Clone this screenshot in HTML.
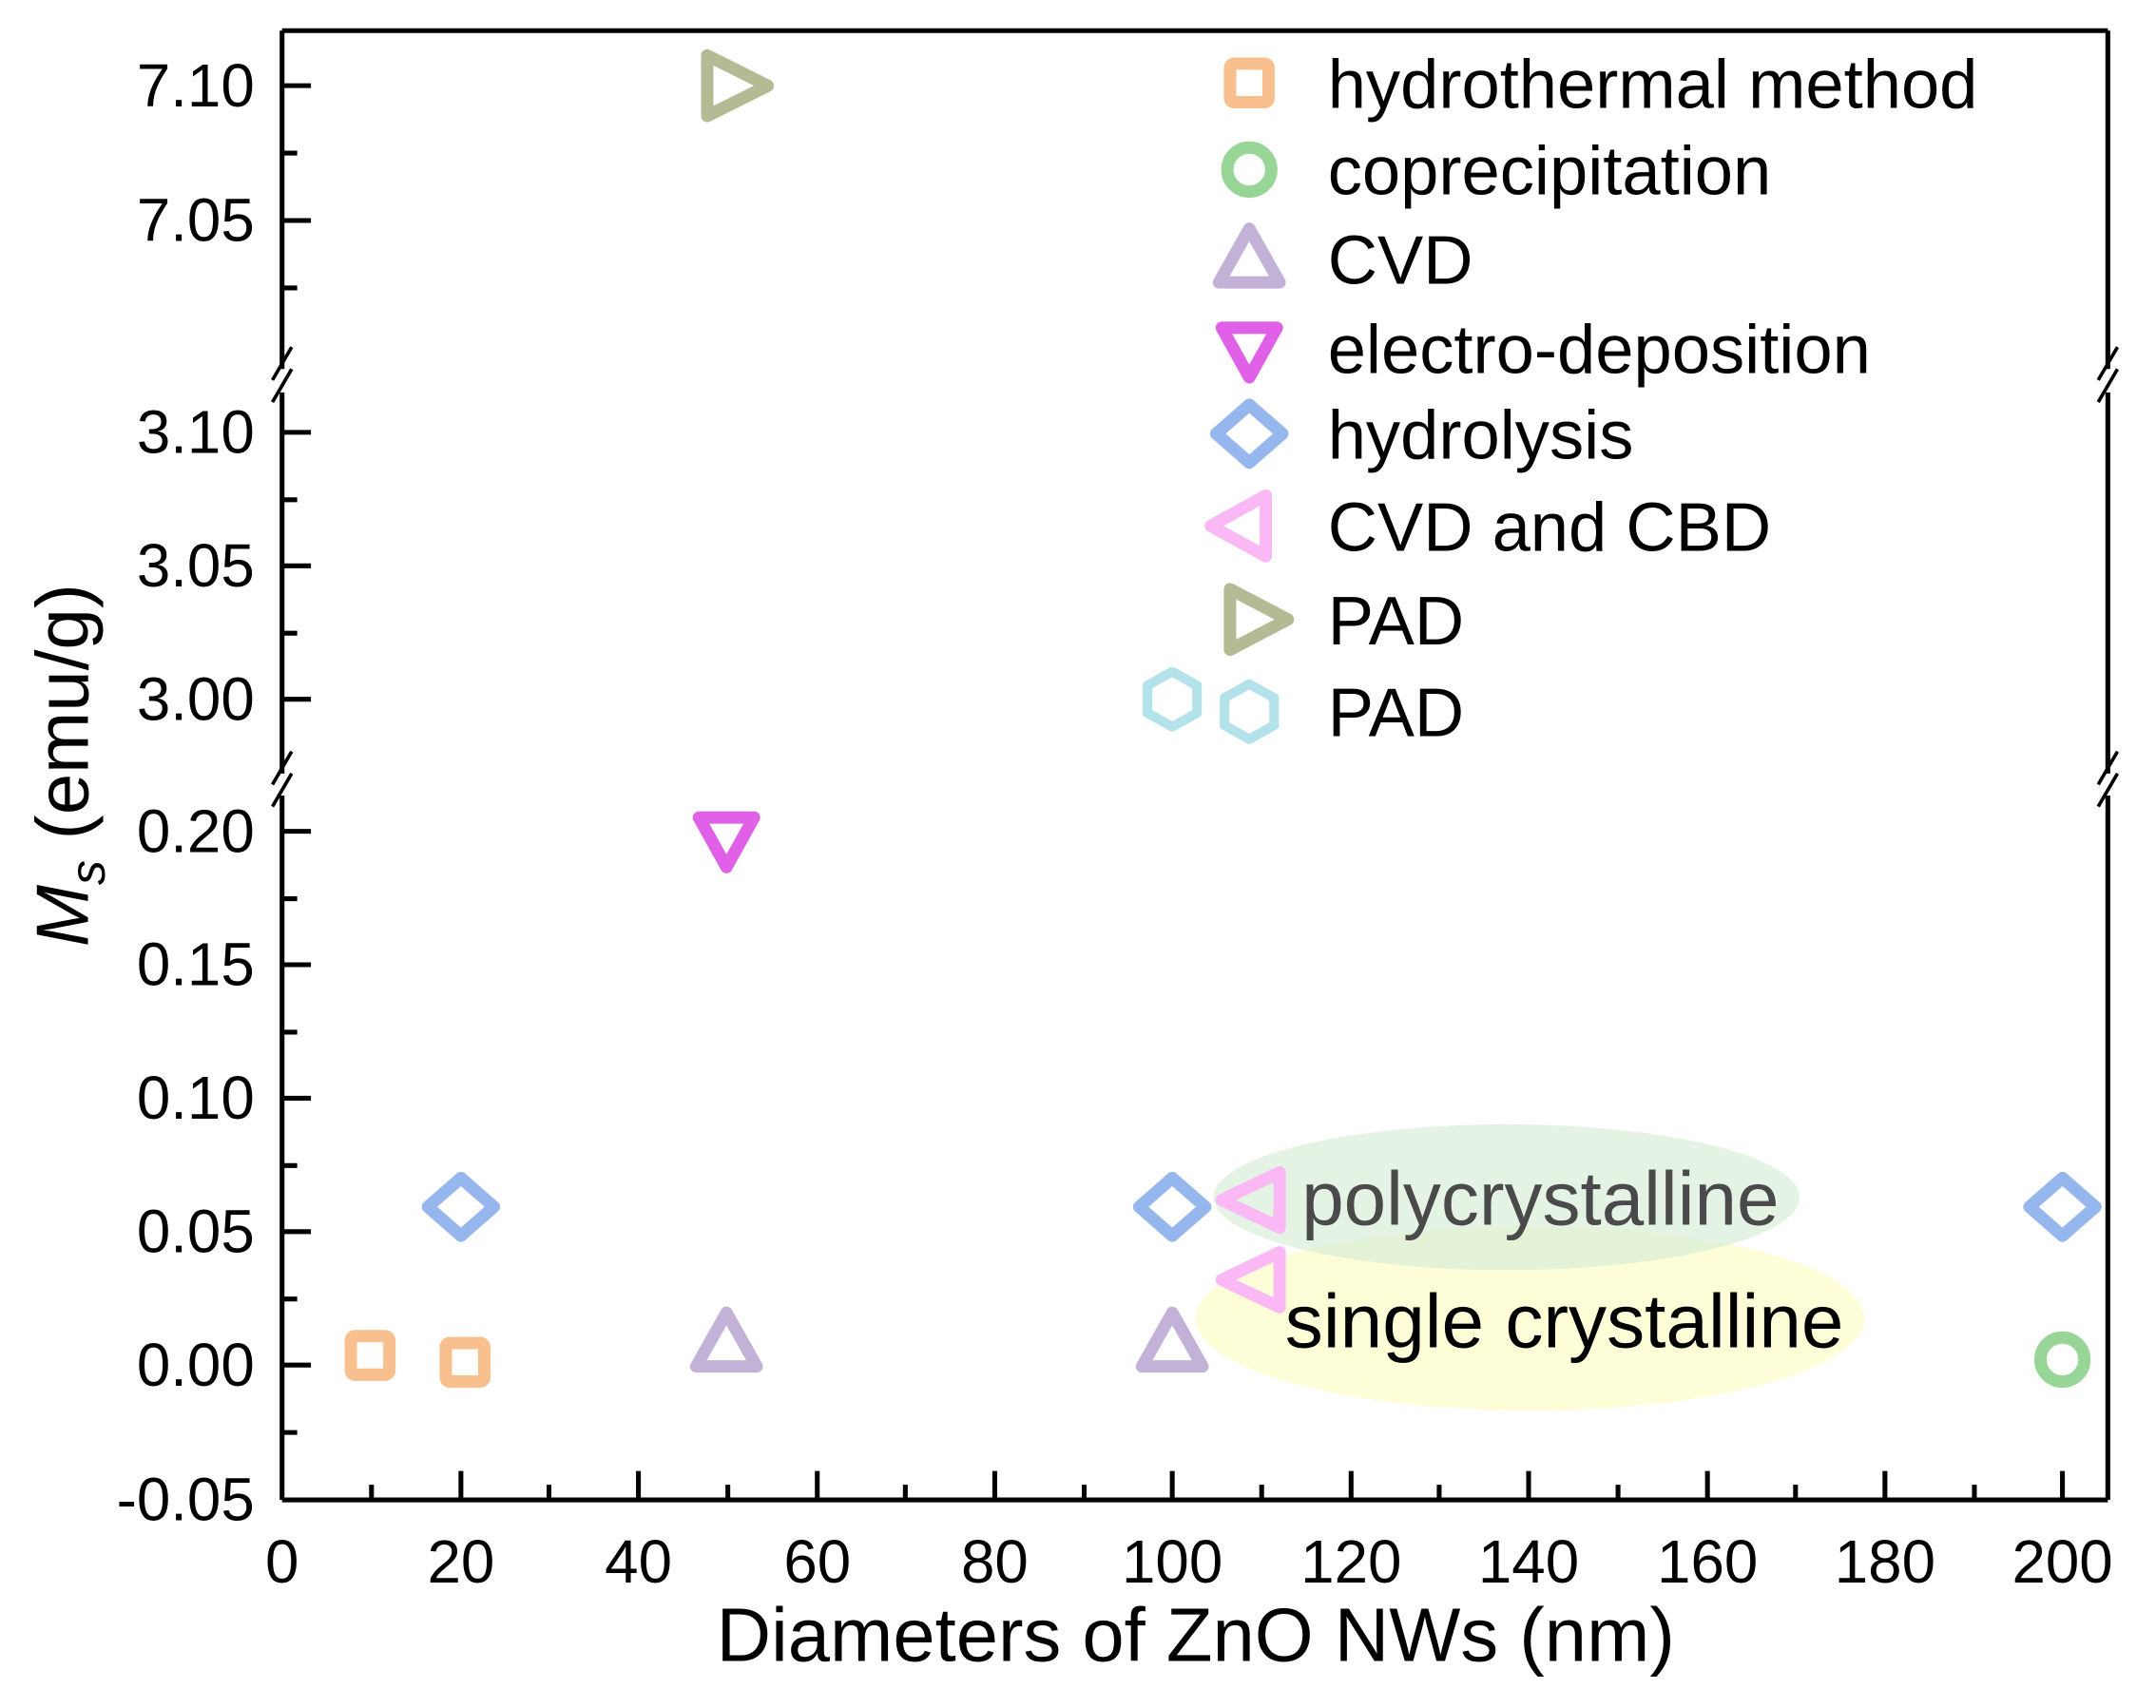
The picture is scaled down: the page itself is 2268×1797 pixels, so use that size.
<!DOCTYPE html>
<html><head><style>html,body{margin:0;padding:0;background:#fff}svg{display:block}</style></head>
<body>
<svg width="2268" height="1797" viewBox="0 0 1567 1241" xmlns="http://www.w3.org/2000/svg" font-family="Liberation Sans, Arial, sans-serif">
<rect width="1567" height="1241" fill="#fff"/>
<ellipse cx="1112" cy="958" rx="243" ry="67" fill="#fdfdd8"/>
<ellipse cx="1095" cy="870" rx="213" ry="53" fill="#d8eed8" opacity="0.7"/>
<text x="946" y="890" font-size="55" fill="#4a4a4a" textLength="347" lengthAdjust="spacingAndGlyphs">polycrystalline</text>
<text x="934" y="979" font-size="55" fill="#000" textLength="406" lengthAdjust="spacingAndGlyphs">single crystalline</text>
<g stroke="#000" stroke-width="3.5" fill="none">
<line x1="205" y1="22" x2="1532" y2="22"/>
<line x1="205" y1="1090" x2="1532" y2="1090"/>
<line x1="205" y1="22" x2="205" y2="268"/>
<line x1="205" y1="285" x2="205" y2="562"/>
<line x1="205" y1="578" x2="205" y2="1090"/>
<line x1="1532" y1="22" x2="1532" y2="268"/>
<line x1="1532" y1="285" x2="1532" y2="562"/>
<line x1="1532" y1="578" x2="1532" y2="1090"/>
<g stroke-width="2.5">
<line x1="198" y1="276" x2="212" y2="252"/><line x1="198" y1="292" x2="212" y2="268"/>
<line x1="198" y1="570" x2="212" y2="546"/><line x1="198" y1="586" x2="212" y2="562"/>
<line x1="1525" y1="276" x2="1539" y2="252"/><line x1="1525" y1="292" x2="1539" y2="268"/>
<line x1="1525" y1="570" x2="1539" y2="546"/><line x1="1525" y1="586" x2="1539" y2="562"/>
</g>
<line x1="205" y1="62" x2="226" y2="62"/><line x1="205" y1="111" x2="216" y2="111"/>
<line x1="205" y1="160" x2="226" y2="160"/><line x1="205" y1="209" x2="216" y2="209"/>
<line x1="205" y1="314" x2="226" y2="314"/><line x1="205" y1="363" x2="216" y2="363"/>
<line x1="205" y1="411" x2="226" y2="411"/><line x1="205" y1="460" x2="216" y2="460"/>
<line x1="205" y1="508" x2="226" y2="508"/>
<line x1="205" y1="604" x2="226" y2="604"/><line x1="205" y1="653" x2="216" y2="653"/>
<line x1="205" y1="701" x2="226" y2="701"/><line x1="205" y1="750" x2="216" y2="750"/>
<line x1="205" y1="798" x2="226" y2="798"/><line x1="205" y1="847" x2="216" y2="847"/>
<line x1="205" y1="895" x2="226" y2="895"/><line x1="205" y1="944" x2="216" y2="944"/>
<line x1="205" y1="992" x2="226" y2="992"/><line x1="205" y1="1041" x2="216" y2="1041"/>
<line x1="270" y1="1090" x2="270" y2="1079"/><line x1="335" y1="1090" x2="335" y2="1069"/>
<line x1="399" y1="1090" x2="399" y2="1079"/><line x1="464" y1="1090" x2="464" y2="1069"/>
<line x1="529" y1="1090" x2="529" y2="1079"/><line x1="594" y1="1090" x2="594" y2="1069"/>
<line x1="658" y1="1090" x2="658" y2="1079"/><line x1="723" y1="1090" x2="723" y2="1069"/>
<line x1="788" y1="1090" x2="788" y2="1079"/><line x1="852" y1="1090" x2="852" y2="1069"/>
<line x1="917" y1="1090" x2="917" y2="1079"/><line x1="982" y1="1090" x2="982" y2="1069"/>
<line x1="1046" y1="1090" x2="1046" y2="1079"/><line x1="1111" y1="1090" x2="1111" y2="1069"/>
<line x1="1176" y1="1090" x2="1176" y2="1079"/><line x1="1241" y1="1090" x2="1241" y2="1069"/>
<line x1="1305" y1="1090" x2="1305" y2="1079"/><line x1="1370" y1="1090" x2="1370" y2="1069"/>
<line x1="1435" y1="1090" x2="1435" y2="1079"/><line x1="1499" y1="1090" x2="1499" y2="1069"/>
</g>
<g font-size="44" text-anchor="end">
<text x="185" y="77">7.10</text><text x="185" y="175">7.05</text>
<text x="185" y="329">3.10</text><text x="185" y="426">3.05</text><text x="185" y="523">3.00</text>
<text x="185" y="619">0.20</text><text x="185" y="716">0.15</text><text x="185" y="813">0.10</text>
<text x="185" y="910">0.05</text><text x="185" y="1007">0.00</text><text x="185" y="1105">-0.05</text>
</g>
<g font-size="44" text-anchor="middle">
<text x="205" y="1150">0</text><text x="335" y="1150">20</text><text x="464" y="1150">40</text>
<text x="594" y="1150">60</text><text x="723" y="1150">80</text><text x="852" y="1150">100</text>
<text x="982" y="1150">120</text><text x="1111" y="1150">140</text><text x="1241" y="1150">160</text>
<text x="1370" y="1150">180</text><text x="1499" y="1150">200</text>
</g>
<text x="869" y="1207" font-size="55" text-anchor="middle">Diameters of ZnO NWs (nm)</text>
<text transform="translate(64,556) rotate(-90)" font-size="54" text-anchor="middle"><tspan font-style="italic">M</tspan><tspan font-style="italic" font-size="36" dy="12">s</tspan><tspan dy="-12"> (emu/g)</tspan></text>
<g fill="none" stroke-width="9" stroke-linejoin="round">
<g stroke="#f9c08f"><rect x="255" y="971" width="28" height="28" rx="3"/><rect x="324" y="976" width="28" height="28" rx="3"/><rect x="894" y="46" width="28" height="28" rx="3"/></g>
<g stroke="#98d698"><circle cx="1499" cy="988" r="16"/><circle cx="908" cy="123" r="16"/></g>
<g stroke="#c2b2d8"><polygon points="528,954 550,993 506,993"/><polygon points="852,954 874,993 830,993"/><polygon points="908,166 930,205 886,205"/></g>
<g stroke="#e060e8"><polygon points="508,594 548,594 528,630"/><polygon points="888,238 928,238 908,274"/></g>
<g stroke="#96b6ee"><polygon points="335,856 359,877 335,898 311,877"/><polygon points="852,856 876,877 852,898 828,877"/><polygon points="1499,856 1523,877 1499,898 1475,877"/><polygon points="908,294 932,315 908,336 884,315"/></g>
<g stroke="#fab8f4"><polygon points="930,852 930,892 888,872"/><polygon points="930,910 930,950 888,930"/><polygon points="920,360 920,404 880,382"/></g>
<g stroke="#b3ba94"><polygon points="514,40 514,84 558,62"/><polygon points="894,428 894,472 936,450"/></g>
<g stroke="#b4e2ea" stroke-width="7"><polygon points="852,488 870,498 870,518 852,528 834,518 834,498"/><polygon points="908,497 926,507 926,527 908,537 890,527 890,507"/></g>
</g>
<g font-size="50">
<text x="965" y="78">hydrothermal method</text>
<text x="965" y="141">coprecipitation</text>
<text x="965" y="206">CVD</text>
<text x="965" y="271">electro-deposition</text>
<text x="965" y="333">hydrolysis</text>
<text x="965" y="400">CVD and CBD</text>
<text x="965" y="468">PAD</text>
<text x="965" y="535">PAD</text>
</g>
</svg>
</body></html>
